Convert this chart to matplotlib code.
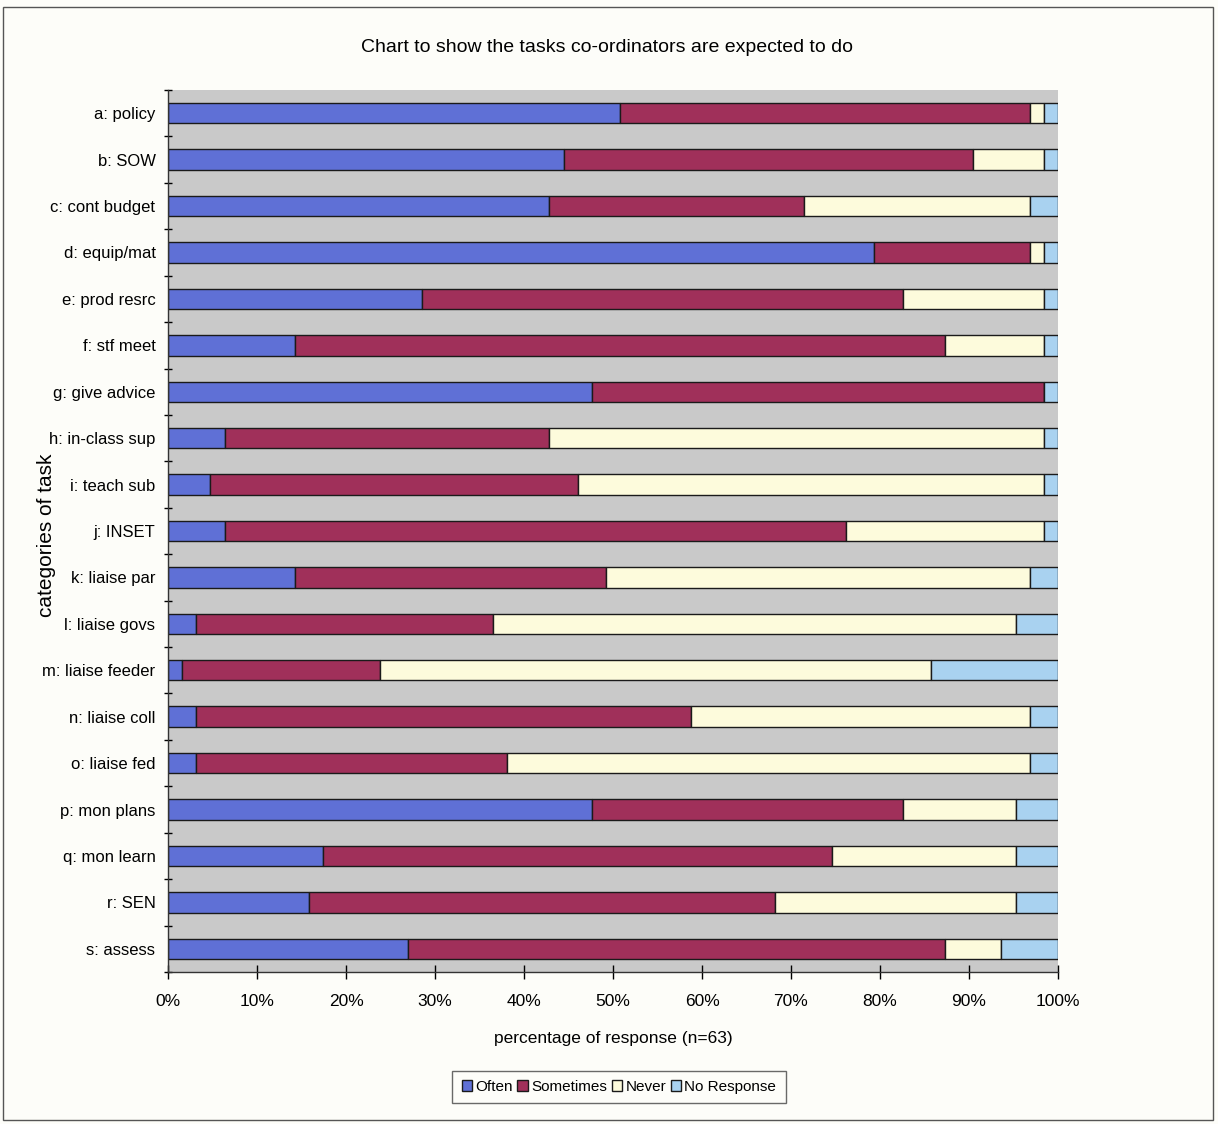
import matplotlib
matplotlib.use("Agg")
import matplotlib.pyplot as plt
from matplotlib.patches import Rectangle
import numpy as np

# ---- data (counts out of n=63 respondents) ----
N = 63
categories = ["a: policy", "b: SOW", "c: cont budget", "d: equip/mat", "e: prod resrc",
              "f: stf meet", "g: give advice", "h: in-class sup", "i: teach sub", "j: INSET",
              "k: liaise par", "l: liaise govs", "m: liaise feeder", "n: liaise coll",
              "o: liaise fed", "p: mon plans", "q: mon learn", "r: SEN", "s: assess"]
often       = [32, 28, 27, 50, 18,  9, 30,  4,  3,  4,  9,  2,  1,  2,  2, 30, 11, 10, 17]
sometimes   = [29, 29, 18, 11, 34, 46, 32, 23, 26, 44, 22, 21, 14, 35, 22, 22, 36, 33, 38]
never       = [ 1,  5, 16,  1, 10,  7,  0, 35, 33, 14, 30, 37, 39, 24, 37,  8, 13, 17,  4]
no_response = [ 1,  1,  2,  1,  1,  1,  1,  1,  1,  1,  2,  3,  9,  2,  2,  3,  3,  3,  4]
series_names = ["Often", "Sometimes", "Never", "No Response"]
x_ticks = [0, 10, 20, 30, 40, 50, 60, 70, 80, 90, 100]
x_tick_labels = ["0%", "10%", "20%", "30%", "40%", "50%", "60%", "70%", "80%", "90%", "100%"]

colors = ["#5f70d6", "#a0305a", "#fdfbdc", "#a9d2f0"]

plt.rcParams['font.family'] = ["Liberation Sans Narrow", "Liberation Sans", "DejaVu Sans"]

W, H = 1218, 1124
fig = plt.figure(figsize=(W / 100, H / 100), dpi=100)
fig.patch.set_facecolor("#fdfdf9")

# outer chart border
fig.add_artist(Rectangle((3 / W, 1 - 1120 / H), 1210 / W, 1113 / H, transform=fig.transFigure,
                         fill=False, edgecolor="#555555", linewidth=1.0))

ax = fig.add_axes([168 / W, 1 - 972 / H, 890 / W, 882 / H])
ax.set_facecolor("#c9c9c9")

y = np.arange(len(categories))
data = [np.array(often), np.array(sometimes), np.array(never), np.array(no_response)]
left = np.zeros(len(categories))
for vals, name, col in zip(data, series_names, colors):
    pct = vals / N * 100.0
    ax.barh(y, pct, left=left, height=0.44, color=col, edgecolor="#1a1a1a",
            linewidth=1.0, label=name)
    left += pct

ax.set_xlim(0, 100)
ax.set_ylim(len(categories) - 0.5, -0.5)
ax.set_yticks(y)
ax.set_yticklabels(categories, fontsize=12)
ax.set_yticks(np.arange(-0.5, len(categories), 1.0), minor=True)
ax.tick_params(axis="y", which="major", length=0, pad=9)
ax.tick_params(axis="y", which="minor", length=6, direction="inout", width=1)
ax.set_xticks(x_ticks)
ax.set_xticklabels(x_tick_labels, fontsize=12.5)
ax.tick_params(axis="x", which="major", length=10, direction="inout", width=1, pad=11)

for side in ["top", "right"]:
    ax.spines[side].set_visible(False)
for side in ["left", "bottom"]:
    ax.spines[side].set_color("#333333")
    ax.spines[side].set_linewidth(1.0)

ax.set_xlabel("percentage of response (n=63)", fontsize=12.5, labelpad=16)
fig.text(47 / W, 1 - 535 / H, "categories of task", rotation=90, ha="center", va="center",
         fontsize=15, family=["Liberation Sans", "DejaVu Sans"])

fig.text(607 / W, 1 - 48 / H, "Chart to show the tasks co-ordinators are expected to do",
         ha="center", va="center", fontsize=14)

leg = fig.legend(loc="center", bbox_to_anchor=(619 / W, 1 - 1087 / H), ncol=4,
                 fontsize=11, frameon=True, fancybox=False, edgecolor="#444444",
                 handlelength=0.7, handleheight=0.7, handletextpad=0.2, columnspacing=0.3,
                 borderpad=0.6)
leg.get_frame().set_linewidth(1.0)
leg.get_frame().set_facecolor("#fdfdf9")

fig.savefig("out.png", dpi=100, facecolor=fig.get_facecolor())
